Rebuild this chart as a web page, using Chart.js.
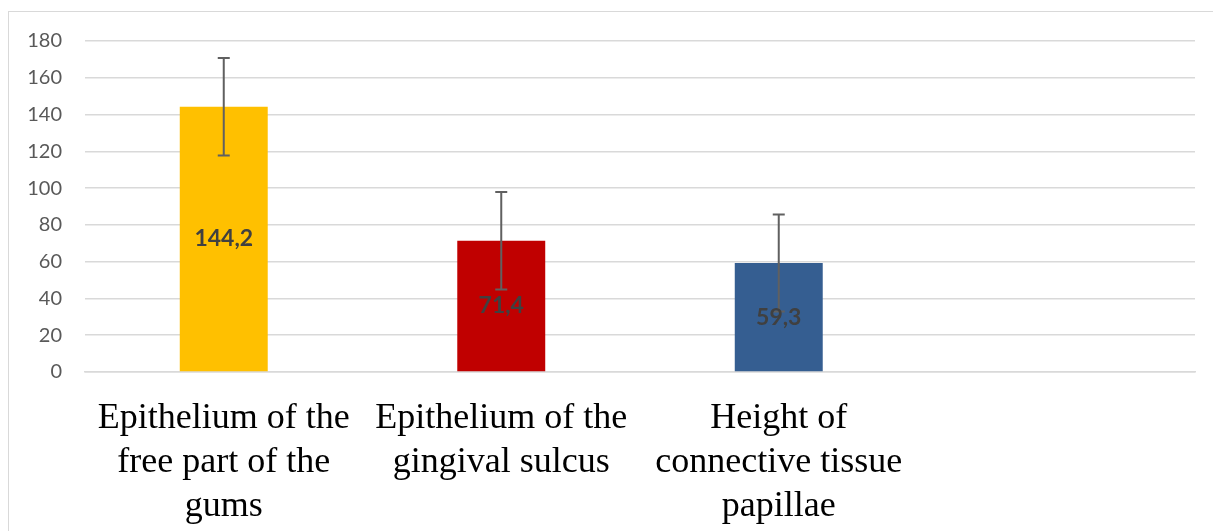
<!DOCTYPE html>
<html>
<head>
<meta charset="utf-8">
<script src="https://cdn.jsdelivr.net/npm/chart.js@4.4.1/dist/chart.umd.min.js"></script>
<style>
    body { margin: 0; background: #fff; }
    #wrap { position: relative; width: 1213px; height: 531px; overflow: hidden; }
    #frame { position: absolute; left: 8px; top: 11px; width: 1220px; height: 540px; border: 1.5px solid #d9d9d9; }
    canvas { position: absolute; left: 0; top: 0; }
</style>
</head>
<body>
<div id="wrap">
    <div id="frame"></div>
    <canvas id="barChart" width="1213" height="531"></canvas>
</div>
<script>
const categories = [
    ['Epithelium of the', 'free part of the', 'gums'],
    ['Epithelium of the', 'gingival sulcus'],
    ['Height of', 'connective tissue', 'papillae'],
    ''
];
const meanValues = [144.2, 71.4, 59.3, null];
const errorValues = [26.5, 26.5, 26.4, null];
const barColors = ['#FFC000', '#C00000', '#355E91', '#ffffff'];
const yTicks = [0, 20, 40, 60, 80, 100, 120, 140, 160, 180];

// error bars drawn on top of the bars
const errorBarPlugin = {
    id: 'errorBars',
    afterDatasetsDraw(chart) {
        const ctx = chart.ctx;
        const yScale = chart.scales.y;
        const meta = chart.getDatasetMeta(0);
        ctx.save();
        ctx.strokeStyle = '#606060';
        ctx.lineWidth = 2;
        meta.data.forEach(function(bar, i) {
            const v = meanValues[i];
            const e = errorValues[i];
            if (v === null || e === null) return;
            const top = yScale.getPixelForValue(v + e);
            const bottom = yScale.getPixelForValue(v - e);
            ctx.beginPath();
            ctx.moveTo(bar.x, top);
            ctx.lineTo(bar.x, bottom);
            ctx.moveTo(bar.x - 6, top);
            ctx.lineTo(bar.x + 6, top);
            ctx.moveTo(bar.x - 6, bottom);
            ctx.lineTo(bar.x + 6, bottom);
            ctx.stroke();
        });
        ctx.restore();
    }
};

// value labels in the middle of each bar
const valueLabelPlugin = {
    id: 'valueLabels',
    afterDraw(chart) {
        const ctx = chart.ctx;
        const meta = chart.getDatasetMeta(0);
        ctx.save();
        ctx.font = 'bold 23px Lato';
        ctx.fillStyle = '#404040';
        ctx.textAlign = 'center';
        ctx.textBaseline = 'middle';
        meta.data.forEach(function(bar, i) {
            const v = meanValues[i];
            if (v === null) return;
            const y = (bar.y + bar.base) / 2;
            ctx.fillText(v.toFixed(1).replace('.', ','), bar.x, y);
        });
        ctx.restore();
    }
};

new Chart(document.getElementById('barChart').getContext('2d'), {
    type: 'bar',
    data: {
        labels: categories,
        datasets: [{
            data: meanValues,
            backgroundColor: barColors,
            borderWidth: 0,
            barPercentage: 1,
            categoryPercentage: 0.317
        }]
    },
    options: {
        responsive: false,
        animation: false,
        layout: { padding: { top: 41, right: 18, left: 0, bottom: 0 } },
        plugins: { legend: { display: false }, tooltip: { enabled: false } },
        scales: {
            x: {
                grid: { display: false, drawTicks: false },
                border: { display: true, color: '#d9d9d9', width: 1.5 },
                ticks: {
                    color: '#000000',
                    padding: 25,
                    maxRotation: 0,
                    autoSkip: false,
                    font: { family: '"Liberation Serif", "Times New Roman", serif', size: 36, lineHeight: '44px' }
                },
                afterFit(scale) { scale.height = 159; }
            },
            y: {
                min: 0,
                max: 180,
                afterBuildTicks(scale) { scale.ticks = yTicks.map(v => ({ value: v })); },
                grid: { color: '#d9d9d9', lineWidth: 1.5, drawTicks: false },
                border: { display: false },
                ticks: {
                    color: '#595959',
                    padding: 23,
                    font: { family: 'Lato', size: 20 }
                },
                afterFit(scale) { scale.width = 85; }
            }
        }
    },
    plugins: [errorBarPlugin, valueLabelPlugin]
});
</script>
</body>
</html>
